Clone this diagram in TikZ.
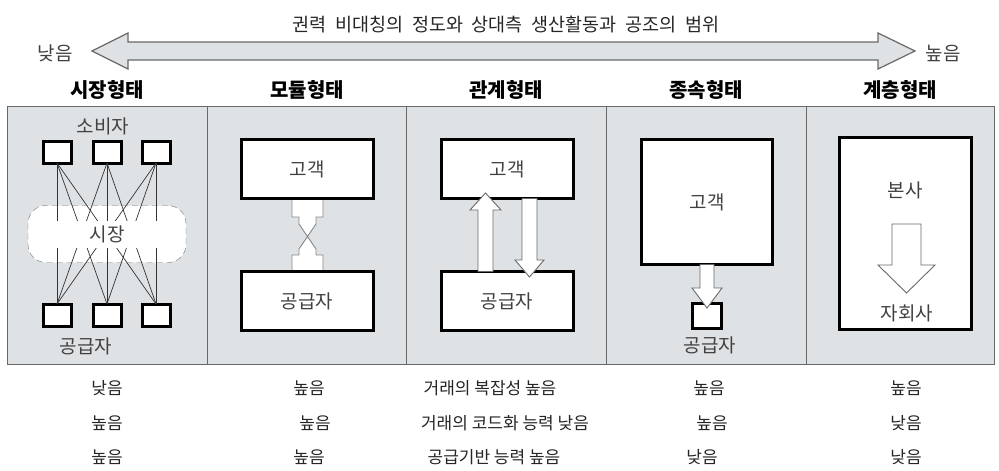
\documentclass[tikz,border=0pt]{standalone}
\usepackage{fontspec}
\setmainfont{Noto Sans CJK KR}
\newfontfamily\titlefont[WordSpace=2.1]{Noto Sans CJK KR}
\usepackage{tikz}
\usetikzlibrary{positioning, calc}
\definecolor{panelgray}{RGB}{222,226,229}
\definecolor{linegray}{RGB}{105,105,105}
\definecolor{txtgray}{RGB}{65,65,65}

\begin{document}
\begin{tikzpicture}[x=1pt, y=-1pt, every node/.style={inner sep=0pt, outer sep=0pt}]
		\tikzstyle{panel}=[draw=linegray, fill=panelgray, line width=1pt]
		\tikzstyle{head}=[text=black, font=\fontsize{20}{22}\selectfont\bfseries]
		\tikzstyle{lbl}=[text=txtgray, font=\fontsize{19}{21}\selectfont]
		\tikzstyle{row}=[text=black!85, font=\fontsize{17}{19}\selectfont]
		\tikzstyle{firm}=[draw=black, fill=white, line width=3pt, minimum width=132, minimum height=59, text=txtgray, font=\fontsize{19}{21}\selectfont]
		\tikzstyle{unit}=[draw=black, fill=white, line width=3pt, minimum width=28, minimum height=22]
		\tikzstyle{market}=[draw=black!55, dash pattern=on 6pt off 4pt, fill=white, rounded corners=18, minimum width=158, minimum height=57]
		\tikzstyle{link}=[draw=black!80, line width=0.7pt]
		\tikzstyle{blockarr}=[draw=linegray, fill=white, line width=0.9pt, line join=miter]
		\tikzstyle{spanarr}=[draw=linegray, fill=panelgray, line width=1.2pt]
		
		\useasboundingbox[fill=white] (0,0) rectangle (999,471);
		
		%% scale on top
		\node[row, font=\fontsize{18.5}{20}\titlefont] (title) at (506,25) {권력 비대칭의 정도와 상대측 생산활동과 공조의 범위};
		\node[lbl] (low) at (55,53) {낮음};
		\node[lbl] (high) at (943,53) {높음};
		\coordinate (lt) at (92,51);
		\coordinate (rt) at (915,51);
		\draw[spanarr] (lt) -- ++(36,-18) -- ++(0,9) -- ($(rt)+(-37,-9)$) -- ++(0,-9) -- (rt) -- ++(-37,18) -- ++(0,-9) -- ($(lt)+(36,9)$) -- ++(0,9) -- cycle;
		
		%% panels and headers
		\foreach \a/\b [count=\i] in {7/207, 207/406, 406/606, 606/806, 806/994}
		\draw[panel] (\a,106) rectangle (\b,364);
		\node[head] (H1) at (107,90) {시장형태};
		\node[head] (H2) at (307,90) {모듈형태};
		\node[head] (H3) at (506,90) {관계형태};
		\node[head] (H4) at (706,90) {종속형태};
		\node[head] (H5) at (900,90) {계층형태};
		
		%% market
		\node[lbl] (buyers) at (103,126) {소비자};
		\node[lbl] (sellers) at (86,346) {공급자};
		\node[market] (mkt) at (107,234) {};
		\foreach \x [count=\i] in {57,107,156} {
			\node[unit] (buy\i) at (\x,152) {};
			\node[unit] (sel\i) at (\x,315) {};
		}
		\foreach \i in {1,2,3}
		\foreach \j in {1,2,3}
		\draw[link] (buy\i.south) -- (sel\j.north);
		\node[lbl, fill=white, minimum width=150, minimum height=27] (mktlbl) at (mkt) {시장};
		
		%% modular
		\node[firm] (cust2) at (307,169) {고객};
		\node[firm] (supp2) at (307,301) {공급자};
		\draw[blockarr, draw=linegray!80] ($(cust2.south)+(-15,0)$) -- ++(0,18.5) -- ++(7,0) -- ++(0,7) -- ++(17,25) -- ++(0,6) -- ++(7,0) -- ($(supp2.north)+(16,0)$) -- ++(-31,0) -- ++(0,-16.5) -- ++(7,0) -- ++(0,-6) -- ++(17,-25) -- ++(0,-7) -- ++(7,0) -- ++(0,-18.5) -- cycle;
		\node[firm] at (cust2) {};
		\node[lbl] at (cust2) {고객};
		\node[firm] at (supp2) {};
		\node[lbl] at (supp2) {공급자};
		
		%% relational
		\node[firm] (cust3) at (507,169) {고객};
		\node[firm] (supp3) at (507,301) {공급자};
		\draw[blockarr] ($(supp3.north)+(-29,0)$) -- ++(0,-61.5) -- ++(-8,0) -- ++(15.5,-17) -- ++(15.5,17) -- ++(-8,0) -- ++(0,61.5) -- cycle;
		\draw[blockarr] ($(cust3.south)+(15,0)$) -- ++(0,61.5) -- ++(-7,0) -- ++(14.5,17) -- ++(14.5,-17) -- ++(-7,0) -- ++(0,-61.5) -- cycle;
		
		%% captive
		\node[firm, minimum width=131, minimum height=125] (cust4) at (707,202) {고객};
		\node[unit, minimum width=29, minimum height=25] (supp4) at (707,316) {};
		\node[lbl] (supp4lbl) at (710,345) {공급자};
		\draw[blockarr] ($(cust4.south)+(-7,0)$) -- ++(0,23.5) -- ++(-8,0) -- ++(15,20) -- ++(15,-20) -- ++(-8,0) -- ++(0,-23.5) -- cycle;
		
		%% hierarchy
		\node[firm, minimum width=132, minimum height=192] (hq5) at (905.5,233.5) {};
		\node[lbl] (parent) at (905,190) {본사};
		\node[lbl] (sub) at (907,313) {자회사};
		\coordinate (a5) at (906.5,224);
		\draw[blockarr] ($(a5)+(-14.5,0)$) -- ++(0,41) -- ++(-14,0) -- ++(28.5,28) -- ++(28.5,-28) -- ++(-14,0) -- ++(0,-41) -- cycle;
		
		%% rows below
		\node[row] (r11) at (107,388) {낮음};
		\node[row] (r12) at (309,388) {높음};
		\node[row] (r13) at (490,388) {거래의 복잡성 높음};
		\node[row] (r14) at (709,388) {높음};
		\node[row] (r15) at (906,388) {높음};
		\node[row] (r21) at (107,423) {높음};
		\node[row] (r22) at (315,423) {높음};
		\node[row] (r23) at (505,423) {거래의 코드화 능력 낮음};
		\node[row] (r24) at (712,423) {높음};
		\node[row] (r25) at (906,423) {낮음};
		\node[row] (r31) at (107,457) {높음};
		\node[row] (r32) at (309,457) {높음};
		\node[row] (r33) at (494,457) {공급기반 능력 높음};
		\node[row] (r34) at (702,457) {낮음};
		\node[row] (r35) at (906,457) {낮음};
		
\end{tikzpicture}
\end{document}
